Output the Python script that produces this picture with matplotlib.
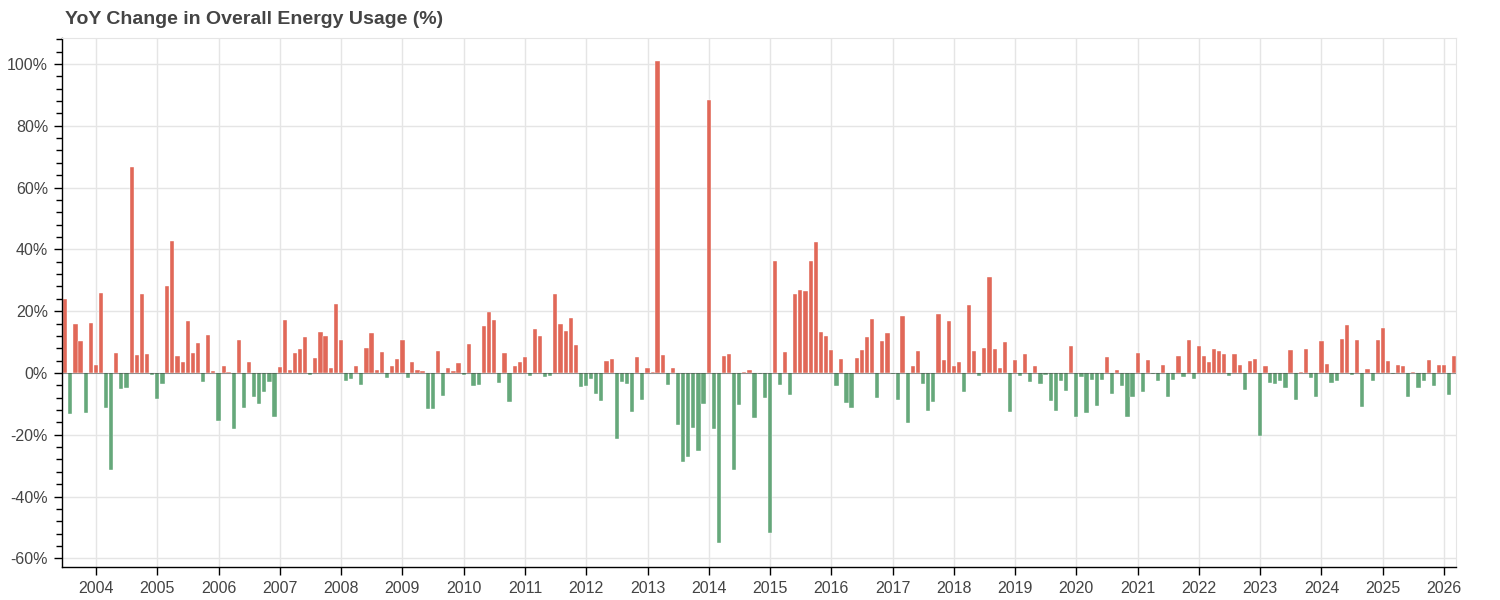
import matplotlib
matplotlib.use('Agg')
import matplotlib.pyplot as plt
import matplotlib.dates as mdates
import matplotlib.ticker as mticker
import numpy as np
import pandas as pd

plt.rcParams['font.family'] = ['Liberation Sans', 'DejaVu Sans']

# monthly YoY change (%), Jul 2003 .. Mar 2026
first_month = '2003-07-01'
yoy_pct = [
    24.0, -13.3, 15.7, 10.3, -13.1, 16.3,                                   # 2003 (Jul-Dec)
    2.7, 26.0, -11.2, -31.5, 6.5, -5.3, -5.0, 66.5, 5.9, 25.6, 6.1, -0.6,    # 2004
    -8.4, -3.7, 28.3, 42.8, 5.5, 3.5, 16.8, 6.5, 9.8, -2.9, 12.2, 0.6,      # 2005
    -15.5, 2.4, 0.4, -18.1, 10.7, -11.5, 3.5, -7.8, -9.9, -6.1, -2.9, -14.3,  # 2006
    1.9, 17.2, 0.8, 6.5, 7.9, 11.6, -0.6, 4.8, 13.2, 11.8, 1.6, 22.4,       # 2007
    10.6, -2.5, -1.8, 2.3, -4.0, 8.1, 12.8, 1.0, 6.7, -1.5, 2.4, 4.6,       # 2008
    10.7, -1.7, 3.4, 1.1, 0.6, -11.8, -11.6, 7.0, -7.6, 1.6, 0.6, 3.2,      # 2009
    -0.6, 9.5, -4.2, -3.8, 15.1, 19.8, 17.0, -3.4, 6.3, -9.5, 2.1, 3.7,     # 2010
    5.3, -1.0, 14.3, 11.8, -1.3, -0.9, 25.6, 15.8, 13.7, 17.8, 9.1, -4.6,   # 2011
    -4.3, -2.0, -6.8, -9.2, 3.8, 4.5, -21.4, -2.9, -3.6, -12.7, 5.1, -8.7,  # 2012
    1.5, 0.4, 100.8, 5.9, -3.9, 1.5, -16.7, -28.8, -27.3, -17.9, -25.1, -10.1,  # 2013
    88.2, -18.1, -55.1, 5.6, 6.1, -31.4, -10.5, 0.4, 0.8, -14.5, -0.4, -8.1,    # 2014
    -51.9, 36.2, -4.0, 6.8, -7.0, 25.6, 26.8, 26.4, 36.2, 42.3, 13.2, 12.0,     # 2015
    7.4, -4.1, 4.5, -9.8, -11.5, 4.9, 7.5, 11.5, 17.4, -8.1, 10.3, 13.0,    # 2016
    -0.2, -8.8, 18.3, -16.1, 2.3, 7.0, -3.6, -12.2, -9.5, 19.1, 4.3, 16.8,  # 2017
    2.3, 3.7, -6.2, 21.9, 7.1, -1.1, 8.1, 31.2, 7.6, 1.6, 9.9, -12.6,       # 2018
    4.1, -1.1, 6.1, -2.9, 2.4, -3.6, -0.6, -9.1, -12.2, -2.7, -5.8, 8.6,    # 2019
    -14.1, -1.4, -12.8, -2.4, -10.7, -2.4, 5.1, -6.8, 1.0, -4.2, -14.1, -7.9,   # 2020
    6.6, -6.2, 4.3, -0.3, -2.7, 2.5, -7.9, -2.3, 5.6, -1.3, 10.7, -1.8,     # 2021
    8.6, 5.6, 3.5, 7.8, 7.1, 6.2, -0.9, 6.2, 2.7, -5.5, 3.9, 4.4,           # 2022
    -20.4, 2.4, -3.2, -3.7, -2.7, -5.0, 7.4, -8.8, 0.3, 7.7, -1.5, -7.7,    # 2023
    10.3, 3.0, -3.4, -2.5, 10.9, 15.5, -0.8, 10.6, -11.1, 1.2, -2.7, 10.8,  # 2024
    14.4, 4.0, -0.4, 2.5, 2.2, -7.8, 0.2, -5.0, -2.5, 4.1, -4.3, 2.6,       # 2025
    2.6, -7.2, 5.6,                                                          # 2026 (Jan-Mar)
]

title = 'YoY Change in Overall Energy Usage (%)'
up_color = '#e0604f'
down_color = '#5ea374'

months = pd.date_range(first_month, periods=len(yoy_pct), freq='MS')
vals = np.array(yoy_pct)
colors = np.where(vals >= 0, up_color, down_color)

fig = plt.figure(figsize=(15, 6), dpi=100)
ax = fig.add_axes([62/1500, 1 - 567/600, (1456-62)/1500, (567-38)/600])

ax.bar(months, vals, width=25, color=colors, edgecolor='white', linewidth=0.3,
       alpha=0.95, zorder=2)
ax.axhline(0, color='black', lw=0.7, alpha=0.4, zorder=3)

ax.set_xlim(pd.Timestamp('2003-06-13'), pd.Timestamp('2026-03-13'))
ax.set_ylim(-62.8, 108.4)

ax.xaxis.set_major_locator(mdates.YearLocator())
ax.xaxis.set_major_formatter(mdates.DateFormatter('%Y'))
ax.yaxis.set_major_locator(mticker.MultipleLocator(20))
ax.yaxis.set_minor_locator(mticker.MultipleLocator(4))
ax.yaxis.set_major_formatter(mticker.FuncFormatter(lambda v, p: f'{v:.0f}%'))

ax.grid(True, which='major', color='#e5e5e5', lw=1, zorder=0)
ax.set_axisbelow(True)

for s in ['top', 'right']:
    ax.spines[s].set_color('#e5e5e5')
for s in ['left', 'bottom']:
    ax.spines[s].set_color('black')
    ax.spines[s].set_linewidth(1)

ax.tick_params(axis='both', which='major', length=6, width=1, color='black',
               labelsize=11.5, labelcolor='#444444', pad=4)
ax.tick_params(axis='y', which='minor', length=4, width=1, color='black')

fig.text(65/1500, 1 - 20/600, title, fontsize=14, fontweight='bold',
         color='#444444', ha='left', va='center')

fig.savefig('out.png', dpi=100)
